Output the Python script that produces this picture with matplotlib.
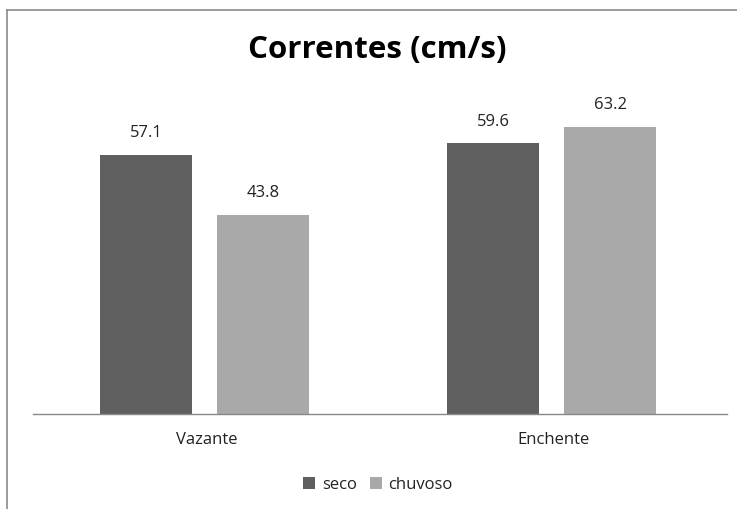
import matplotlib.pyplot as plt
import numpy as np
from matplotlib.lines import Line2D

categories = ['Vazante', 'Enchente']
seco = [57.1, 59.6]
chuvoso = [43.8, 63.2]
series_names = ['seco', 'chuvoso']

colours = ('#5f5f5f', '#a9a9a9')
W, H = 737, 509

fig = plt.figure(figsize=(W / 100, H / 100), dpi=100)
fig.patch.set_facecolor('white')

# plot area in pixel coordinates
left, right, bottom, top = 33, 727, 414, 96
ax = fig.add_axes([left / W, 1 - bottom / H, (right - left) / W, (bottom - top) / H])

x = np.arange(len(categories))
width = 0.265
offsets = (-0.174, 0.163)
for vals, off, col, name in zip((seco, chuvoso), offsets, colours, series_names):
    bars = ax.bar(x + off, vals, width, color=col, label=name)
    for b, v in zip(bars, vals):
        ax.text(b.get_x() + b.get_width() / 2, v + 3.0, '{:.1f}'.format(v),
                ha='center', va='bottom', fontsize=12, color='#222222',
                family='Open Sans')

ax.set_xlim(-0.5, 1.5)
ax.set_ylim(0, 70)
ax.set_yticks([])
ax.set_xticks(x)
ax.set_xticklabels(categories, fontsize=12, family='Open Sans', color='#222222')
ax.tick_params(axis='x', length=0, pad=13)
for s in ('top', 'left', 'right'):
    ax.spines[s].set_visible(False)
ax.spines['bottom'].set_color('#888888')
ax.spines['bottom'].set_linewidth(1.0)

fig.text(377 / W, 1 - 50 / H, 'Correntes (cm/s)', ha='center', va='center',
         fontsize=22.5, fontweight='bold', family='Open Sans', color='black')

leg = fig.legend(loc='center', bbox_to_anchor=(378 / W, 1 - 485 / H), ncol=2,
                 frameon=False, handlelength=0.7, handleheight=0.7,
                 handletextpad=0.4, columnspacing=0.8,
                 prop={'family': 'Open Sans', 'size': 12})
for t in leg.get_texts():
    t.set_color('#222222')

# chart border (top and left edges visible)
fig.add_artist(Line2D([7 / W, 7 / W], [0, 1 - 10 / H], transform=fig.transFigure,
                      color='#8a8a8a', lw=1.2))
fig.add_artist(Line2D([7 / W, 1], [1 - 10 / H, 1 - 10 / H], transform=fig.transFigure,
                      color='#8a8a8a', lw=1.2))

plt.savefig('out.png', dpi=100)
